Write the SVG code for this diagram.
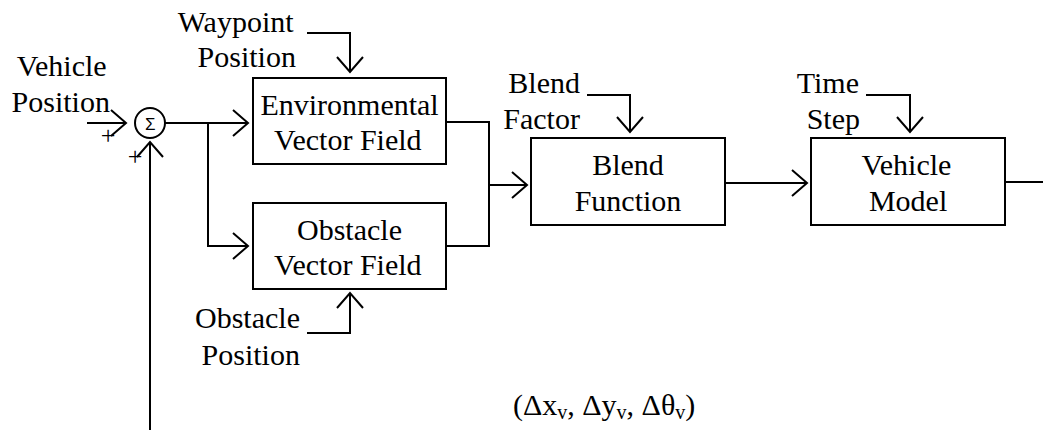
<svg xmlns="http://www.w3.org/2000/svg" width="1043" height="430" viewBox="0 0 1043 430">
<style>
.box{fill:#fff;stroke:#000;stroke-width:2}
.ln{fill:none;stroke:#000;stroke-width:2}
</style>
<defs>
<marker id="ah" viewBox="-16 -14 18 28" markerWidth="18" markerHeight="28" refX="0" refY="0" orient="auto" markerUnits="userSpaceOnUse">
<path d="M-15,-13 L0,0 L-15,13" fill="none" stroke="#000" stroke-width="2"/>
</marker>
</defs>
<rect width="1043" height="430" fill="#fff"/>
<g id="connectors">
<path class="ln" d="M87,123 H126" marker-end="url(#ah)"/>
<path class="ln" d="M150,430 V142" marker-end="url(#ah)"/>
<path class="ln" d="M165,123 H248" marker-end="url(#ah)"/>
<path class="ln" d="M208,123 V246 H248" marker-end="url(#ah)"/>
<path class="ln" d="M307,33 H350 V72" marker-end="url(#ah)"/>
<path class="ln" d="M307,333 H350 V293" marker-end="url(#ah)"/>
<path class="ln" d="M446,122 H489 V246 H446"/>
<path class="ln" d="M489,185 H527" marker-end="url(#ah)"/>
<path class="ln" d="M587,95 H630 V132" marker-end="url(#ah)"/>
<path class="ln" d="M725,183 H807" marker-end="url(#ah)"/>
<path class="ln" d="M866,95 H910 V132" marker-end="url(#ah)"/>
<path class="ln" d="M1005,182 H1043"/>
</g>
<g id="sum">
<circle cx="150" cy="123" r="15" class="box"/>
<text x="145" y="129.5" font-family="Liberation Sans" font-size="17">Σ</text>
<text x="100.7" y="144" font-family="Liberation Serif" font-size="26">+</text>
<text x="127.7" y="165" font-family="Liberation Serif" font-size="26">+</text>
</g>
<g id="vehicle-position">
<text x="16.7" y="76" font-family="Liberation Serif" font-size="30">Vehicle</text>
<text x="11.6" y="112" font-family="Liberation Serif" font-size="30">Position</text>
</g>
<g id="waypoint-position">
<text x="177.7" y="32" font-family="Liberation Serif" font-size="30">Waypoint</text>
<text x="197.6" y="67" font-family="Liberation Serif" font-size="30">Position</text>
</g>
<g id="env-field">
<rect class="box" x="253" y="78" width="193" height="86"/>
<text x="260.4" y="115" font-family="Liberation Serif" font-size="30">Environmental</text>
<text x="274.1" y="150" font-family="Liberation Serif" font-size="30">Vector Field</text>
</g>
<g id="obstacle-field">
<rect class="box" x="253" y="203" width="193" height="86"/>
<text x="297" y="240" font-family="Liberation Serif" font-size="30">Obstacle</text>
<text x="274.1" y="275" font-family="Liberation Serif" font-size="30">Vector Field</text>
</g>
<g id="obstacle-position">
<text x="195" y="328" font-family="Liberation Serif" font-size="30">Obstacle</text>
<text x="201.6" y="365" font-family="Liberation Serif" font-size="30">Position</text>
</g>
<g id="blend-factor">
<text x="508.3" y="93" font-family="Liberation Serif" font-size="30">Blend</text>
<text x="503.3" y="129" font-family="Liberation Serif" font-size="30">Factor</text>
</g>
<g id="blend-function">
<rect class="box" x="531" y="138" width="194" height="87"/>
<text x="592.2" y="175" font-family="Liberation Serif" font-size="30">Blend</text>
<text x="574.7" y="211" font-family="Liberation Serif" font-size="30">Function</text>
</g>
<g id="time-step">
<text x="796.7" y="93" font-family="Liberation Serif" font-size="30">Time</text>
<text x="806.7" y="129" font-family="Liberation Serif" font-size="30">Step</text>
</g>
<g id="vehicle-model">
<rect class="box" x="811" y="138" width="194" height="87"/>
<text x="861.4" y="175" font-family="Liberation Serif" font-size="30">Vehicle</text>
<text x="868.9" y="211" font-family="Liberation Serif" font-size="30">Model</text>
</g>
<g id="delta-label">
<text x="513" y="415" font-family="Liberation Serif" font-size="30">(Δx<tspan font-size="20" dy="4">v</tspan><tspan dy="-4">, Δy</tspan><tspan font-size="20" dy="4">v</tspan><tspan dy="-4">, Δθ</tspan><tspan font-size="20" dy="4">v</tspan><tspan dy="-4">)</tspan></text>
</g>
</svg>
